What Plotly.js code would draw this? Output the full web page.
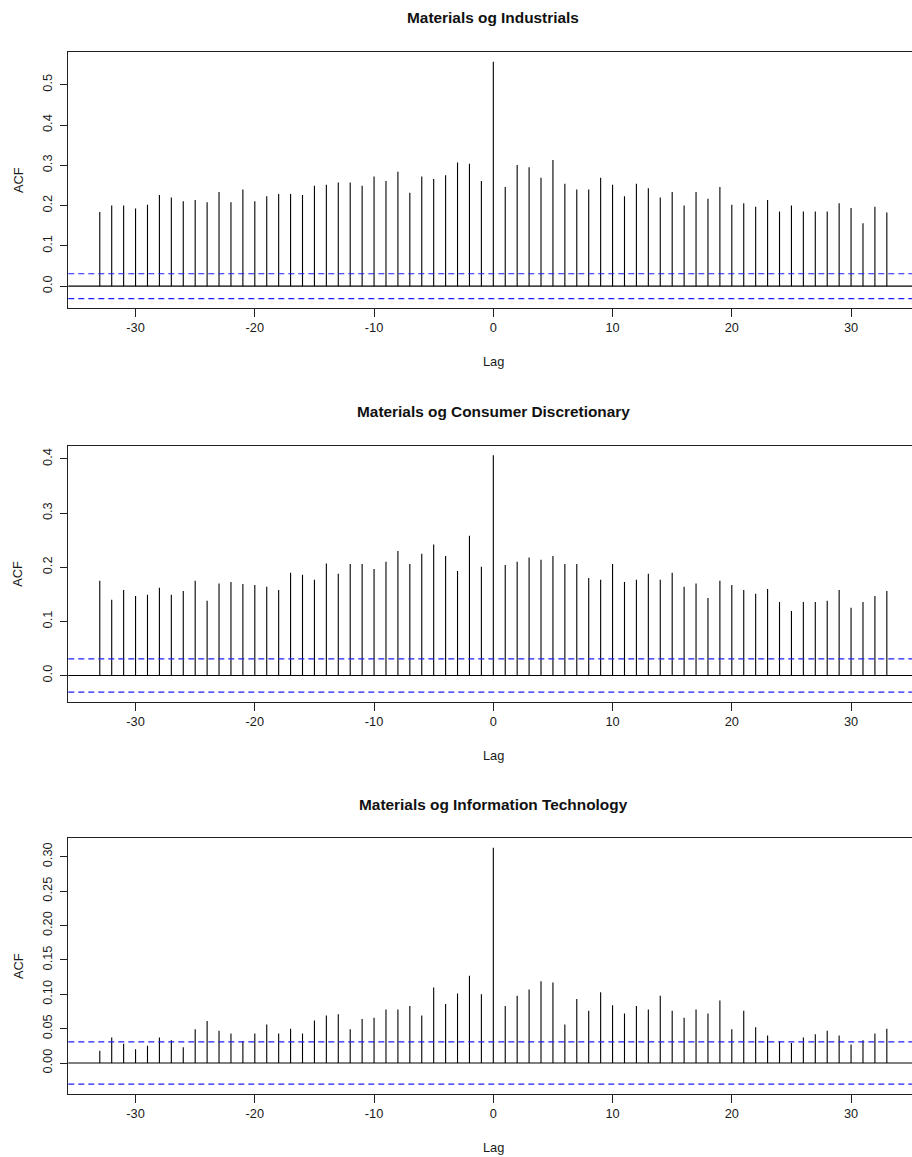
<!DOCTYPE html>
<html>
<head>
<meta charset="utf-8">
<script src="https://cdn.plot.ly/plotly-3.0.1.min.js"></script>
<style>
  html, body { margin: 0; padding: 0; background: #ffffff; }
  #chart { width: 912px; height: 1157px; }
</style>
</head>
<body>
<div id="chart"></div>
<script>
// Cross-correlation of Materials returns against three other sectors, lags -33..33
const lags = [-33,-32,-31,-30,-29,-28,-27,-26,-25,-24,-23,-22,-21,-20,-19,-18,-17,-16,-15,-14,-13,-12,-11,-10,-9,-8,-7,-6,-5,-4,-3,-2,-1,
              0,
              1,2,3,4,5,6,7,8,9,10,11,12,13,14,15,16,17,18,19,20,21,22,23,24,25,26,27,28,29,30,31,32,33];

const industrials = [0.184,0.200,0.200,0.193,0.202,0.226,0.220,0.211,0.214,0.208,0.234,0.208,0.240,0.211,0.223,0.229,0.229,0.226,0.249,0.252,0.257,0.257,0.249,0.272,0.261,0.284,0.232,0.272,0.266,0.275,0.307,0.304,0.261,
                     0.557,
                     0.246,0.301,0.295,0.269,0.313,0.254,0.240,0.240,0.269,0.252,0.223,0.254,0.243,0.220,0.234,0.200,0.234,0.217,0.246,0.202,0.206,0.197,0.214,0.185,0.200,0.185,0.185,0.185,0.206,0.194,0.156,0.197,0.183];

const consumerDiscretionary = [0.175,0.140,0.158,0.147,0.149,0.162,0.149,0.156,0.175,0.138,0.170,0.173,0.169,0.167,0.164,0.158,0.190,0.186,0.177,0.207,0.188,0.206,0.206,0.197,0.210,0.230,0.206,0.225,0.242,0.221,0.193,0.258,0.201,
                               0.407,
                               0.204,0.210,0.218,0.214,0.221,0.206,0.206,0.180,0.177,0.206,0.173,0.177,0.188,0.177,0.190,0.164,0.170,0.143,0.175,0.167,0.158,0.151,0.160,0.136,0.119,0.136,0.136,0.138,0.158,0.125,0.136,0.147,0.156];

const informationTechnology = [0.018,0.037,0.028,0.020,0.025,0.037,0.033,0.023,0.049,0.061,0.047,0.043,0.032,0.043,0.056,0.043,0.050,0.043,0.062,0.069,0.071,0.049,0.064,0.066,0.078,0.078,0.083,0.069,0.110,0.086,0.101,0.127,0.100,
                               0.313,
                               0.083,0.098,0.107,0.119,0.117,0.056,0.093,0.076,0.103,0.084,0.072,0.083,0.078,0.098,0.076,0.066,0.078,0.072,0.091,0.049,0.076,0.052,0.040,0.032,0.029,0.037,0.042,0.047,0.040,0.027,0.033,0.043,0.050];

// Approximate 95% significance bound (±1.96/sqrt(n))
const ciBound = 0.0308;

const panelTitles = ["Materials og Industrials", "Materials og Consumer Discretionary", "Materials og Information Technology"];
const xTickVals = [-30, -20, -10, 0, 10, 20, 30];
const yTicksIndustrials = [0.0, 0.1, 0.2, 0.3, 0.4, 0.5];
const yTicksConsumer = [0.0, 0.1, 0.2, 0.3, 0.4];
const yTicksTech = [0.00, 0.05, 0.10, 0.15, 0.20, 0.25, 0.30];

// ---- layout geometry (pixels) ----
const W = 912, H = 1157;
const px = v => v / W;
const py = v => 1 - v / H;
const plotLeft = 68.3;
const panels = [
  { series: industrials,           yTicks: yTicksIndustrials, fmt: 1, top: 52.3,  bottom: 307.7,  yRange: [-0.0535, 0.5805] },
  { series: consumerDiscretionary, yTicks: yTicksConsumer,    fmt: 1, top: 445.7, bottom: 701.7,  yRange: [-0.0483, 0.4245] },
  { series: informationTechnology, yTicks: yTicksTech,        fmt: 2, top: 838.3, bottom: 1093.7, yRange: [-0.0446, 0.3268] }
];

const FONT = "Liberation Sans, Arial, sans-serif";
const textColor = "#1a1a1a";
const axisColor = "#222222";

const traces = [];
const shapes = [];
const annotations = [];
const layout = {
  width: W, height: H,
  margin: { l: 0, r: 0, t: 0, b: 0, pad: 0 },
  paper_bgcolor: "#ffffff",
  plot_bgcolor: "#ffffff",
  showlegend: false,
  font: { family: FONT, size: 12.8, color: textColor }
};

panels.forEach((p, i) => {
  const n = i + 1;
  const xa = "xaxis" + (n === 1 ? "" : n);
  const ya = "yaxis" + (n === 1 ? "" : n);
  const xr = "x" + (n === 1 ? "" : n);
  const yr = "y" + (n === 1 ? "" : n);

  // vertical spikes from 0 to each correlation value
  const sx = [], sy = [];
  lags.forEach((lag, k) => {
    sx.push(lag, lag, null);
    sy.push(0, p.series[k], null);
  });
  traces.push({
    type: "scatter", mode: "lines", x: sx, y: sy,
    xaxis: xr, yaxis: yr,
    line: { color: "#000000", width: 1.1 },
    hoverinfo: "skip"
  });

  layout[xa] = {
    domain: [px(plotLeft), 1],
    anchor: yr,
    range: [-35.64, 35.11],
    tickmode: "array", tickvals: xTickVals, ticktext: xTickVals.map(String),
    ticks: "outside", ticklen: 8, tickwidth: 1, tickcolor: axisColor,
    showline: true, mirror: true, linecolor: axisColor, linewidth: 1,
    showgrid: false, zeroline: false,
    tickfont: { family: FONT, size: 12.8, color: textColor },
    fixedrange: true
  };
  layout[ya] = {
    domain: [py(p.bottom), py(p.top)],
    anchor: xr,
    range: p.yRange,
    tickmode: "array", tickvals: p.yTicks, ticktext: p.yTicks.map(v => v.toFixed(p.fmt)),
    tickangle: -90,
    ticks: "outside", ticklen: 7, tickwidth: 1, tickcolor: axisColor,
    ticklabelstandoff: 3,
    showline: true, mirror: false, linecolor: axisColor, linewidth: 1,
    showgrid: false, zeroline: false,
    tickfont: { family: FONT, size: 12.8, color: textColor },
    fixedrange: true
  };

  // zero line and significance bounds
  shapes.push({ type: "line", xref: xr + " domain", yref: yr, x0: 0, x1: 1, y0: 0, y1: 0,
                line: { color: "#000000", width: 1.1 } });
  [ciBound, -ciBound].forEach(b => {
    shapes.push({ type: "line", xref: xr + " domain", yref: yr, x0: 0, x1: 1, y0: b, y1: b,
                  line: { color: "#1f1fff", width: 1.2, dash: "6px,4px" } });
  });

  const centerX = px(493);
  // panel title
  annotations.push({ text: "<b>" + panelTitles[i] + "</b>", xref: "paper", yref: "paper",
                     x: centerX, y: py(p.top - 34.3), xanchor: "center", yanchor: "middle",
                     showarrow: false, font: { family: FONT, size: 15.4, color: "#111111" } });
  // x axis title
  annotations.push({ text: "Lag", xref: "paper", yref: "paper",
                     x: centerX, y: py(p.bottom + 54), xanchor: "center", yanchor: "middle",
                     showarrow: false, font: { family: FONT, size: 12.8, color: textColor } });
  // y axis title
  annotations.push({ text: "ACF", xref: "paper", yref: "paper", textangle: -90,
                     x: px(18), y: py((p.top + p.bottom) / 2), xanchor: "center", yanchor: "middle",
                     showarrow: false, font: { family: FONT, size: 12.8, color: textColor } });
});

layout.shapes = shapes;
layout.annotations = annotations;

Plotly.newPlot("chart", traces, layout, { displayModeBar: false, staticPlot: true });
</script>
</body>
</html>
